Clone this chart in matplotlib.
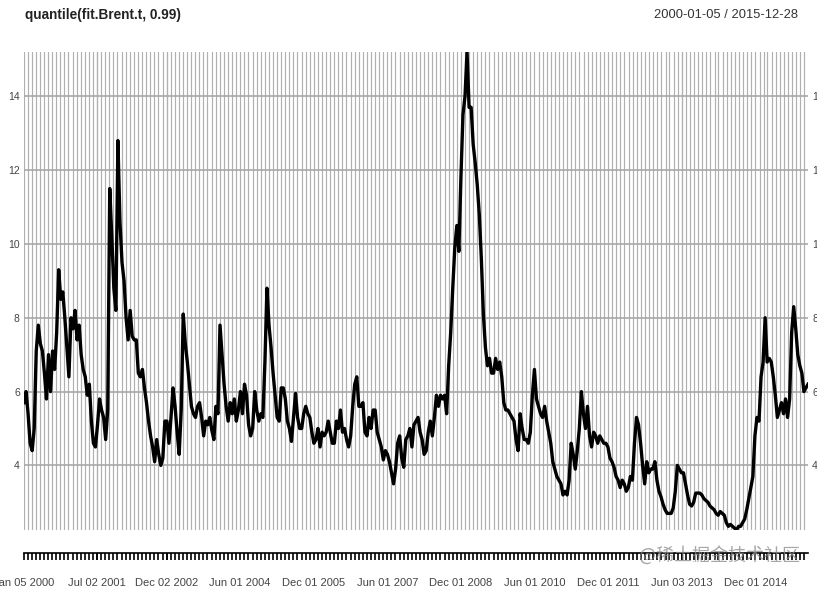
import numpy as np
import pandas as pd
import matplotlib
matplotlib.use('Agg')
import matplotlib.pyplot as plt
import matplotlib.dates as mdates

plt.rcParams['font.family'] = ['Liberation Sans', 'DejaVu Sans']

# valores (aprox. cada media quincena, 2000-01-05 .. 2015-12-28)
q99 = [5.7, 6.0, 5.4, 4.6, 4.4, 5.0, 7.1, 7.8, 7.3, 7.1,
       6.5, 5.8, 7.0, 6.0, 7.1, 6.6, 7.6, 9.3, 8.5, 8.7,
       8.0, 7.2, 6.4, 8.0, 7.7, 8.2, 7.4, 7.8, 7.0, 6.6,
       6.4, 5.9, 6.2, 5.2, 4.6, 4.5, 5.1, 5.8, 5.5, 5.3,
       4.7, 5.5, 11.5, 10.2, 8.8, 8.2, 12.8, 10.6, 9.5, 9.0,
       8.0, 7.4, 8.2, 7.5, 7.4, 7.4, 6.5, 6.4, 6.6, 6.1,
       5.7, 5.2, 4.8, 4.5, 4.1, 4.7, 4.3, 4.0, 4.2, 5.2,
       5.2, 4.6, 5.3, 6.1, 5.6, 4.9, 4.3, 5.5, 8.1, 7.3,
       6.8, 6.2, 5.6, 5.4, 5.3, 5.6, 5.7, 5.3, 4.8, 5.2,
       5.1, 5.3,
       4.95, 4.7, 5.6, 5.4, 7.8, 7.0, 6.2, 5.6, 5.2, 5.7,
       5.4, 5.8, 5.2, 5.5, 6.0, 5.4, 6.2, 5.9, 5.1, 4.8,
       5.0, 6.0, 5.5, 5.2, 5.4, 5.3, 6.8, 8.8, 7.8, 7.2,
       6.5, 5.9, 5.3, 5.2, 6.1, 6.1, 5.8, 5.2, 5.0, 4.65,
       5.3, 5.95, 5.3, 5.0, 5.0, 5.4, 5.6, 5.4, 5.3, 4.9,
       4.6, 4.7, 5.0, 4.5, 4.9, 4.8, 4.9, 5.2, 4.9, 4.6,
       4.6, 5.2, 5.0, 5.5, 4.9, 5.0, 4.7, 4.5, 4.8, 5.6,
       6.2, 6.4, 5.6, 5.6, 5.7, 4.9, 4.8, 5.3, 5.0, 5.5,
       5.5, 4.9, 4.7, 4.5, 4.15, 4.4, 4.3, 4.1, 3.8, 3.5,
       3.9, 4.6, 4.8, 4.2, 3.95, 4.7, 4.8, 5.0,
       4.5, 5.1, 5.2, 5.3, 4.9, 4.7, 4.3, 4.4, 4.9, 5.2,
       4.8, 5.3, 5.9, 5.6, 5.9, 5.8, 5.9, 5.4, 6.7, 7.6,
       8.8, 9.9, 10.5, 9.8, 11.8, 13.5, 14.0, 15.2, 13.7, 13.7,
       12.7, 12.2, 11.6, 10.8, 9.6, 8.1, 7.2, 6.7, 6.9, 6.5,
       6.5, 6.9, 6.6, 6.8, 6.4, 5.7, 5.5, 5.5, 5.4, 5.3,
       5.2, 4.7, 4.4, 5.4, 5.0, 4.7, 4.7, 4.6, 4.9, 5.9,
       6.6, 5.8, 5.6, 5.4, 5.3, 5.6, 5.2, 4.9, 4.6, 4.1,
       3.9, 3.7, 3.6, 3.5, 3.2, 3.3, 3.2, 3.6, 4.6, 4.3,
       3.9, 4.4, 5.0, 6.0, 5.4, 5.0, 5.6, 4.8, 4.5, 4.9,
       4.8, 4.6, 4.8, 4.7, 4.6, 4.6, 4.5, 4.2,
       4.1, 3.95, 3.7, 3.6, 3.4, 3.6, 3.5, 3.3, 3.4, 3.7,
       3.6, 4.6, 5.3, 5.1, 4.6, 4.0, 3.5, 4.1, 3.8, 3.9,
       3.9, 4.1, 3.6, 3.3, 3.15, 2.95, 2.8, 2.7, 2.7, 2.7,
       2.85, 3.3, 4.0, 3.9, 3.8, 3.8, 3.5, 3.2, 2.95, 2.9,
       3.0, 3.25, 3.25, 3.25, 3.2, 3.1, 3.05, 3.0, 2.9, 2.85,
       2.8, 2.7, 2.65, 2.75, 2.7, 2.65, 2.45, 2.35, 2.4, 2.35,
       2.3, 2.25, 2.35, 2.35, 2.45, 2.55, 2.8, 3.1, 3.4, 3.7,
       4.8, 5.3, 5.2, 6.4, 6.8, 8.0, 6.8, 6.9, 6.8, 6.4,
       5.9, 5.3, 5.5, 5.7, 5.4, 5.8, 5.3, 5.8, 7.6, 8.3,
       7.7, 7.0, 6.7, 6.5, 6.0, 6.1, 6.2]
fechas = pd.date_range('2000-01-05', '2015-12-28', periods=len(q99))

y_ticks = [4, 6, 8, 10, 12, 14]
x_label_dates = pd.to_datetime(['2000-01-05', '2001-07-02', '2002-12-02', '2004-06-01',
                                '2005-12-01', '2007-06-01', '2008-12-01', '2010-06-01',
                                '2011-12-01', '2013-06-03', '2014-12-01'])

fig = plt.figure(figsize=(8.17, 5.94), dpi=100)
ax = fig.add_axes([24/817, 64/594, 784/817, 478/594])

ax.plot(fechas, q99, color='black', lw=2.4, solid_joinstyle='round', zorder=3)

ax.set_xlim(fechas[0], fechas[-1])
ax.set_ylim(min(q99), max(q99))

# grilla
ax.xaxis.set_minor_locator(mdates.MonthLocator())
ax.set_xticks(x_label_dates)
ax.set_xticklabels([d.strftime('%b %d %Y') for d in x_label_dates])
ax.grid(True, which='both', axis='x', color='#b0b0b0', lw=0.85)
ax.set_yticks(y_ticks)
ax.grid(True, which='major', axis='y', color='#a8a8a8', lw=1.2)

for s in ['top', 'left', 'right']:
    ax.spines[s].set_visible(False)
ax.spines['bottom'].set_position(('outward', 16.5))
ax.spines['bottom'].set_linewidth(1.2)

ax.tick_params(axis='x', which='both', length=5, width=1.2, color='black',
               labelsize=8, labelcolor='#444444', pad=13)
ax.tick_params(axis='y', length=0, labelsize=7.5, labelcolor='#444444',
               labelleft=True, labelright=True, pad=3)

fig.text(25/817, 1 - 15/594, 'quantile(fit.Brent.t, 0.99)', fontsize=9.8,
         fontweight='bold', color='#222222', va='center', ha='left')
fig.text(798/817, 1 - 15/594, '2000-01-05 / 2015-12-28', fontsize=9.3,
         color='#333333', va='center', ha='right')

# marca de agua
fig.text(720/817, 1 - 555/594, '@稀土掘金技术社区', fontsize=13, color='#888888',
         alpha=0.75, ha='center', va='center', family=['Noto Sans CJK SC', 'DejaVu Sans'])

fig.savefig('out.png', dpi=100)
